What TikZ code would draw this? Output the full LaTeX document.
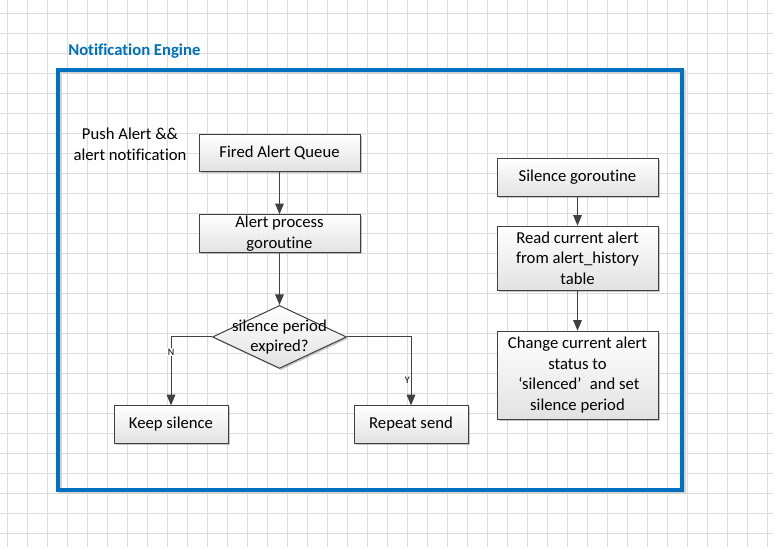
\documentclass[tikz,border=0pt]{standalone}
\usepackage{fontspec}
\setmainfont{Carlito}[Ligatures={NoCommon,NoContextual}]
\usepackage{tikz}
\usetikzlibrary{arrows.meta,positioning,shapes.geometric,shadows}

\definecolor{visioblue}{RGB}{0,112,192}
\definecolor{linegray}{RGB}{64,64,64}
\definecolor{gridgray}{RGB}{220,220,220}
\definecolor{boxgray}{RGB}{226,226,226}

\begin{document}
\begin{tikzpicture}[
  x=0.75pt, y=-0.75pt,
  box/.style={draw=linegray, line width=0.75pt, align=center, minimum width=120.75pt, minimum height=28pt, inner sep=1pt, font=\fontsize{12.5}{15.5}\selectfont, top color=white, bottom color=boxgray, drop shadow={shadow xshift=1.2pt, shadow yshift=-1.2pt, fill=gray, opacity=0.45}},
  smallbox/.style={box, minimum width=85.5pt},
  decision/.style={diamond, draw=linegray, line width=0.75pt, minimum width=100.5pt, minimum height=47.25pt, inner sep=0pt, top color=white, bottom color=boxgray, drop shadow={shadow xshift=1.2pt, shadow yshift=-1.2pt, fill=gray, opacity=0.45}},
  note/.style={align=center, font=\fontsize{12.5}{15.5}\selectfont},
  title/.style={font=\bfseries\fontsize{12.5}{15}\selectfont, text=visioblue, inner sep=0pt},
  arr/.style={-{Triangle[length=8pt, width=6.5pt]}, draw=linegray, line width=0.75pt},
  yn/.style={font=\fontsize{7.5}{8}\selectfont, inner sep=0.5pt},
  gridline/.style={draw=gridgray, line width=0.75pt},
  frame/.style={draw=visioblue, line width=2.3pt}
]

% background and grid
\fill[white] (0,0) rectangle (773,547);
\useasboundingbox (0,0) rectangle (773,547);
\foreach \gx in {7,27,...,767} \draw[gridline] (\gx,0) -- (\gx,547);
\foreach \gy in {13,33,...,533} \draw[gridline] (0,\gy) -- (773,\gy);

% engine frame
\draw[gray!35, line width=2.3pt] (60,72) rectangle (684,492);
\draw[frame] (58,70) rectangle (682,490);
\node[title, anchor=west] (engine) at (68,51.5) {Notification Engine};

% alert process flow
\node[note] (push) at (130,144.5) {Push Alert \&\&\\alert notification};
\node[box] (fired) at (279.5,153) {Fired Alert Queue};
\node[box, below=31.5pt of fired] (proc) {Alert process\\goroutine};
\node[decision, below=39pt of proc] (dia) {};
\node[note] (diatext) at (dia) {silence period\\expired?};
\node[smallbox] (keep) at (171,424.5) {Keep silence};
\node[smallbox] (repeat) at (411,424.5) {Repeat send};

\draw[arr] (fired) -- (proc);
\draw[arr] (proc) -- (dia);
\draw[arr] (dia.west) -| node[yn, pos=0.61, fill=white] {N} (keep.north);
\draw[arr] (dia.east) -| node[yn, pos=0.82, left] {Y} (repeat.north);

% silence flow
\node[box] (silence) at (577.5,177.5) {Silence goroutine};
\node[box, below=21.75pt of silence, minimum height=48pt] (read) {Read current alert\\from alert\_history\\table};
\node[box, below=30pt of read, minimum height=66pt] (change) {Change current alert\\status to\\\,‘silenced’\enspace and set\\silence period};

\draw[arr] (silence) -- (read);
\draw[arr] (read) -- (change);

\end{tikzpicture}
\end{document}
